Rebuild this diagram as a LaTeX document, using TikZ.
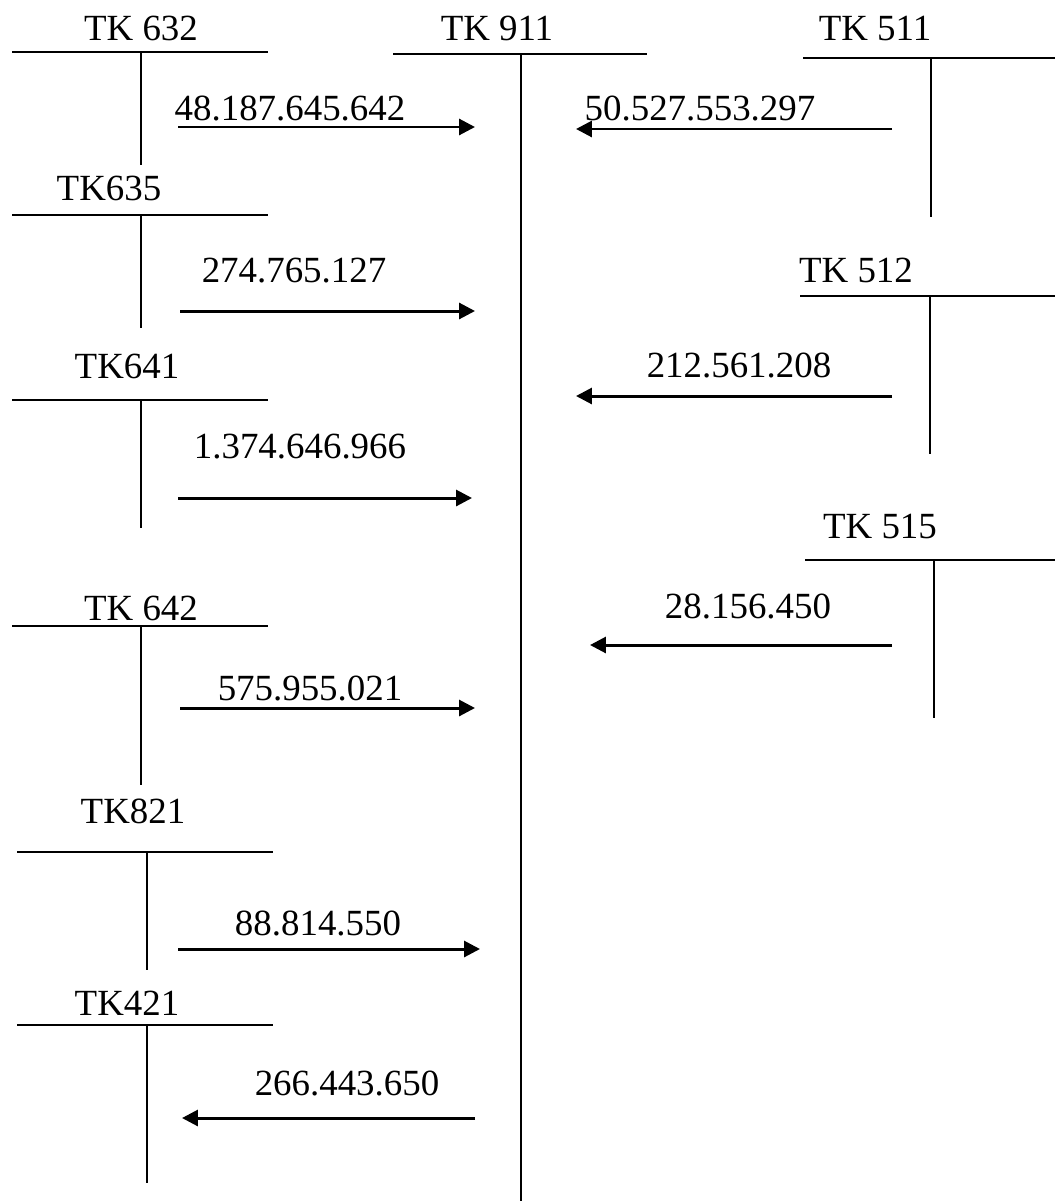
\documentclass[tikz,border=0pt]{standalone}
\usepackage{fontspec}
\setmainfont{Liberation Serif}
\usepackage{tikz}
\usetikzlibrary{arrows.meta, positioning}

\begin{document}
\begin{tikzpicture}[x=0.02cm, y=-0.02cm,
                acctline/.style={line width=1.1pt},
                flowarrow/.style={
                  line width=1.7pt, % arrows a little heavier than the T lines
                  -{Triangle[length=9pt,width=9pt]}
                },
                acctname/.style={font=\fontsize{21}{25}\selectfont, inner sep=0pt, anchor=base},
                amount/.style={acctname}
              ]
              \useasboundingbox (0,0) rectangle (1055,1201);

              % left column of T accounts
              \node [acctname] (k632) at (141,40) {TK 632};
              \draw [acctline] (12,52) coordinate (k632l) -- (268,52) coordinate (k632r);
              \draw [acctline] (141,52) coordinate (k632t) -- (141,165) coordinate (k632b);

              \node [acctname] (k635) at (109,200) {TK635};
              \draw [acctline] (12,215) coordinate (k635l) -- (268,215) coordinate (k635r);
              \draw [acctline] (141,215) coordinate (k635t) -- (141,328) coordinate (k635b);

              \node [acctname] (k641) at (127,378) {TK641};
              \draw [acctline] (12,400) coordinate (k641l) -- (268,400) coordinate (k641r);
              \draw [acctline] (141,400) coordinate (k641t) -- (141,528) coordinate (k641b);

              \node [acctname] (k642) at (141,620) {TK 642};
              \draw [acctline] (12,626) coordinate (k642l) -- (268,626) coordinate (k642r);
              \draw [acctline] (141,626) coordinate (k642t) -- (141,785) coordinate (k642b);

              \node [acctname] (k821) at (133,823) {TK821};
              \draw [acctline] (17,852) coordinate (k821l) -- (273,852) coordinate (k821r);
              \draw [acctline] (147,852) coordinate (k821t) -- (147,970) coordinate (k821b);

              \node [acctname] (k421) at (127,1015) {TK421};
              \draw [acctline] (17,1025) coordinate (k421l) -- (273,1025) coordinate (k421r);
              \draw [acctline] (147,1025) coordinate (k421t) -- (147,1183) coordinate (k421b);

              % centre account
              \node [acctname] (k911) at (497,40) {TK 911};
              \draw [acctline] (393,54) coordinate (k911l) -- (647,54) coordinate (k911r);
              \draw [acctline] (521,54) coordinate (k911t) -- (521,1201) coordinate (k911b);

              % right column
              \node [acctname] (k511) at (875,40) {TK 511};
              \draw [acctline] (803,58) coordinate (k511l) -- (1055,58) coordinate (k511r);
              \draw [acctline] (931,58) coordinate (k511t) -- (931,217) coordinate (k511b);

              \node [acctname] (k512) at (856,282) {TK 512};
              \draw [acctline] (800,296) coordinate (k512l) -- (1055,296) coordinate (k512r);
              \draw [acctline] (930,296) coordinate (k512t) -- (930,454) coordinate (k512b);

              \node [acctname] (k515) at (880,538) {TK 515};
              \draw [acctline] (805,560) coordinate (k515l) -- (1055,560) coordinate (k515r);
              \draw [acctline] (934,560) coordinate (k515t) -- (934,718) coordinate (k515b);

              % transfers into and out of TK 911
              \coordinate (f632s) at (178,127);  \coordinate (f632e) at (475,127);
              \coordinate (f635s) at (180,311);  \coordinate (f635e) at (475,311);
              \coordinate (f641s) at (178,498);  \coordinate (f641e) at (472,498);
              \coordinate (f642s) at (180,708);  \coordinate (f642e) at (475,708);
              \coordinate (f821s) at (178,949);  \coordinate (f821e) at (480,949);
              \coordinate (f421s) at (475,1118); \coordinate (f421e) at (182,1118);
              \coordinate (f511s) at (892,129);  \coordinate (f511e) at (576,129);
              \coordinate (f512s) at (892,396);  \coordinate (f512e) at (576,396);
              \coordinate (f515s) at (892,645);  \coordinate (f515e) at (590,645);

              \draw [flowarrow] (f632s) -- (f632e);
              \draw [flowarrow] (f635s) -- (f635e);
              \draw [flowarrow] (f641s) -- (f641e);
              \draw [flowarrow] (f642s) -- (f642e);
              \draw [flowarrow] (f821s) -- (f821e);
              \draw [flowarrow] (f421s) -- (f421e);
              \draw [flowarrow] (f511s) -- (f511e);
              \draw [flowarrow] (f512s) -- (f512e);
              \draw [flowarrow] (f515s) -- (f515e);

              \node [amount] (v632) at (290,120) {48.187.645.642};
              \node [amount] (v635) at (294,282) {274.765.127};
              \node [amount] (v641) at (300,458) {1.374.646.966};
              \node [amount] (v642) at (310,700) {575.955.021};
              \node [amount] (v821) at (318,935) {88.814.550};
              \node [amount] (v421) at (347,1095) {266.443.650};
              \node [amount] (v511) at (700,120) {50.527.553.297};
              \node [amount] (v512) at (739,377) {212.561.208};
              \node [amount] (v515) at (748,618) {28.156.450};
            \end{tikzpicture}
\end{document}
